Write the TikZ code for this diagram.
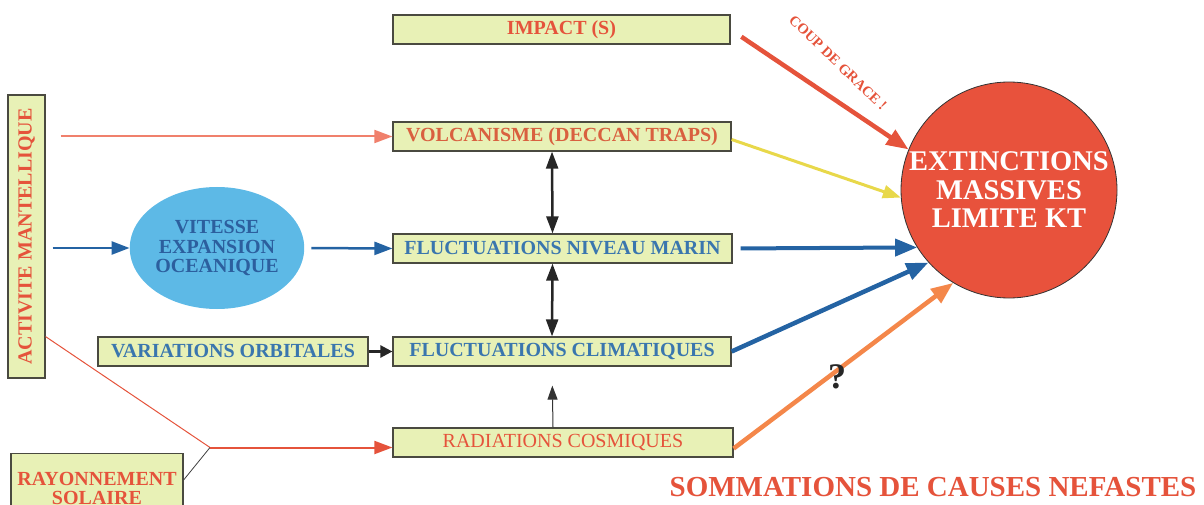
\documentclass[tikz,border=0pt]{standalone}
\usepackage{fontspec}
\setmainfont{Liberation Serif}
\usetikzlibrary{arrows.meta,shapes.geometric}
\definecolor{boxfill}{HTML}{E8F1B6}
\definecolor{boxline}{HTML}{4A4A40}
\definecolor{redtxt}{HTML}{E5533B}
\definecolor{volctxt}{HTML}{D9603F}
\definecolor{bluetxt}{HTML}{3A76AE}
\definecolor{bluearr}{HTML}{2463A3}
\definecolor{pinkarr}{HTML}{F0806C}
\definecolor{extfill}{HTML}{E8523C}
\definecolor{yellarr}{HTML}{E8D84A}
\definecolor{orangearr}{HTML}{F4874A}
\definecolor{ellfill}{HTML}{5DB9E6}
\definecolor{elltxt}{HTML}{2C5F9E}
\begin{document}
\begin{tikzpicture}[x=1pt,y=-1pt,
  box/.style={draw=boxline, line width=1.2pt, fill=boxfill, inner sep=0pt,
    font=\bfseries\fontsize{20}{22}\selectfont},
  thinarr/.style={-{Triangle[length=14pt,width=10pt]}},
  medarr/.style={-{Triangle[length=18pt,width=13pt]}},
  bigarr/.style={-{Triangle[length=22pt,width=17pt]}},
  dblarr/.style={{Triangle[length=17pt,width=12pt]}-{Triangle[length=17pt,width=12pt]}, line width=2.5pt, draw=black!85}
]
\useasboundingbox (0,0) rectangle (1204,505);

% boxes
\node[box, minimum width=337, minimum height=29, text=redtxt] (impact) at (561.5,29.5) {IMPACT (S)};
\node[box, minimum width=338, minimum height=29, text=volctxt] (volc) at (562,136.5) {VOLCANISME (DECCAN TRAPS)};
\node[box, minimum width=339, minimum height=29, text=bluetxt] (marin) at (562.5,248.5) {FLUCTUATIONS NIVEAU MARIN};
\node[box, minimum width=338, minimum height=29, text=bluetxt] (climat) at (562,351.5) {FLUCTUATIONS CLIMATIQUES};
\node[box, minimum width=340, minimum height=29, text=redtxt, font=\fontsize{20}{22}\selectfont] (rad) at (563,442.5) {RADIATIONS COSMIQUES};
\node[box, minimum width=270, minimum height=29, text=bluetxt] (orbit) at (233,351.5) {VARIATIONS ORBITALES};
\node[box, minimum width=37, minimum height=283, text=redtxt] (activ) at (26.5,236.5) {\rotatebox{90}{ACTIVITE MANTELLIQUE}};
\node[box, minimum width=172, minimum height=70, anchor=north, text=redtxt, align=center,
  font=\bfseries\fontsize{20}{19}\selectfont] (ray) at (97,453) {RAYONNEMENT\\SOLAIRE};

% ellipse
\node[ellipse, fill=ellfill, minimum width=154, minimum height=122, inner sep=0pt, align=center,
  text=elltxt, font=\bfseries\fontsize{20}{19.5}\selectfont] (vit) at (217,248) {VITESSE\\EXPANSION\\OCEANIQUE};

% big circle
\node[circle, fill=extfill, draw=black!80, line width=0.8pt, minimum size=216, inner sep=0pt, align=center,
  text=white, font=\bfseries\fontsize{28.5}{28.5}\selectfont] (ext) at (1009,190) {EXTINCTIONS\\MASSIVES\\LIMITE KT};

% connectors from the left
\draw[pinkarr, line width=2pt, medarr, shorten <=15pt] (activ.east |- volc.west) -- (volc.west);
\draw[bluearr, line width=2.5pt, medarr, shorten <=7pt] (activ.east |- vit.west) -- (vit.west);
\draw[bluearr, line width=2.5pt, medarr, shorten <=7pt] (vit.east) -- (marin.west);
\draw[black!85, line width=2.5pt, -{Triangle[length=12pt,width=12pt]}] (orbit.east) -- (climat.west);

\coordinate (j) at (210,447.5);
\draw[redtxt, line width=1pt] ([yshift=42pt]activ.south east) -- (j);
\draw[black!75, line width=0.8pt] ([yshift=-27pt]ray.north east) -- (j);
\draw[redtxt, line width=2pt, medarr] (j) -- (rad.west |- j);

% vertical links
\draw[dblarr] ([xshift=-10pt]volc.south) -- ([xshift=-10pt]marin.north);
\draw[dblarr] ([xshift=-10pt]marin.south) -- ([xshift=-10pt]climat.north);
\draw[black!80, line width=1pt, thinarr, shorten >=19pt] ([xshift=-10pt]rad.north) -- ([xshift=-10pt]climat.south);

% connectors into the circle
\draw[redtxt, line width=4.5pt, bigarr, shorten <=13pt] (impact.east) -- (ext.158);
\draw[yellarr, line width=3pt, medarr] ([yshift=-3pt]volc.east) -- (ext.184);
\draw[bluearr, line width=4pt, bigarr, shorten <=8pt] (marin.east) -- (ext.212);
\draw[bluearr, line width=4.5pt, bigarr] (climat.east) -- (ext.222);
\draw[orangearr, line width=4.5pt, bigarr] ([yshift=-6pt]rad.east) -- (ext.239);

% labels
\node[text=redtxt, rotate=-44, font=\bfseries\fontsize{14.5}{15}\selectfont] (coup) at (838,63) {COUP DE GRACE !};
\node[text=black!85, font=\bfseries\fontsize{36}{36}\selectfont] (q) at (837,377) {?};
\node[text=redtxt, font=\bfseries\fontsize{29}{30}\selectfont] (somm) at (933,487) {SOMMATIONS DE CAUSES NEFASTES};
\end{tikzpicture}
\end{document}
